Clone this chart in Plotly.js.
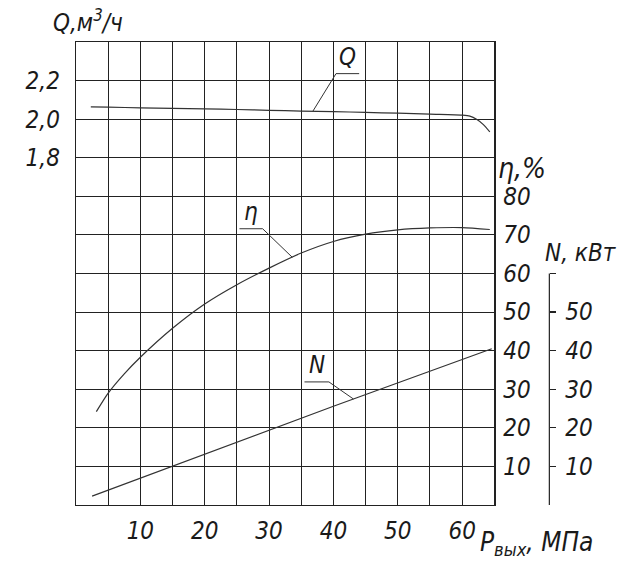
<!DOCTYPE html>
<html>
<head>
<meta charset="utf-8">
<script src="https://cdn.plot.ly/plotly-3.0.1.min.js"></script>
<style>
  body { margin: 0; background: #fff; }
  #chart { width: 618px; height: 565px; }
</style>
</head>
<body>
<div id="chart"></div>
<script>
// Pump characteristic: flow Q, efficiency eta and power N vs outlet pressure
var pressureQ = [2.3, 5, 10, 15, 20, 25, 30, 35, 40, 45, 50, 55, 60, 61.2, 62.3, 63.3, 64.3];
var flowQ = [2.064, 2.062, 2.059, 2.056, 2.053, 2.050, 2.046, 2.042, 2.039, 2.035, 2.031, 2.026, 2.021, 2.016, 1.998, 1.972, 1.934];

var pressureEta = [3.16, 5, 7.5, 10, 15, 20, 25, 30, 35, 40, 45, 50, 55, 60, 64.3];
var efficiency = [24.2, 29.0, 34.0, 38.3, 45.8, 52.1, 57.1, 61.4, 65.3, 68.3, 70.2, 71.3, 71.8, 71.9, 71.4];

var pressureN = [2.5, 20, 40, 64.6];
var power = [2.3, 13.2, 25.6, 40.5];

var xTickVals = [5, 10, 15, 20, 25, 30, 35, 40, 45, 50, 55, 60];
var xTickText = ['', '10', '', '20', '', '30', '', '40', '', '50', '', '60'];
var qTickVals = [0.2, 0.4, 0.6, 0.8, 1.0, 1.2, 1.4, 1.6, 1.8, 2.0, 2.2];
var qTickText = ['', '', '', '', '', '', '', '', '1,8', '2,0', '2,2'];
var etaTickVals = [10, 20, 30, 40, 50, 60, 70, 80];
var nTickVals = [10, 20, 30, 40, 50, 60];
var nTickText = ['10', '20', '30', '40', '50', ''];

var FONT = '"DejaVu Sans Condensed", "Liberation Sans Narrow", "DejaVu Sans", sans-serif';
var INK = '#1a1a1a';
var qToEta = 120 / 2.4;   // Q axis units -> eta axis units (same grid)
var nAxisX = 0.978;       // paper position of the N scale
var nAxisTop = 60;

function interp(xs, ys, x) {
  for (var i = 1; i < xs.length; i++) {
    if (x <= xs[i]) {
      var t = (x - xs[i - 1]) / (xs[i] - xs[i - 1]);
      return ys[i - 1] + t * (ys[i] - ys[i - 1]);
    }
  }
  return ys[ys.length - 1];
}

var curveLine = {color: '#333', width: 1.2, shape: 'spline', smoothing: 0.7};

var traceQ = {x: pressureQ, y: flowQ, type: 'scatter', mode: 'lines',
  line: curveLine, xaxis: 'x', yaxis: 'y', hoverinfo: 'skip'};
var traceEta = {x: pressureEta, y: efficiency, type: 'scatter', mode: 'lines',
  line: curveLine, xaxis: 'x', yaxis: 'y2', hoverinfo: 'skip'};
var traceN = {x: pressureN, y: power, type: 'scatter', mode: 'lines',
  line: {color: '#333', width: 1.2}, xaxis: 'x', yaxis: 'y3', hoverinfo: 'skip'};

// callouts: label with underline and leader to the curve (eta-axis units)
var callouts = [
  {text: 'Q', target: 36.8, y: interp(pressureQ, flowQ, 36.8) * qToEta, x0: 40.4, x1: 44.0, yl: 111.8, from: 'left'},
  {text: 'η', target: 33.6, y: interp(pressureEta, efficiency, 33.6), x0: 25.4, x1: 29.0, yl: 71.6, from: 'right'},
  {text: 'N', target: 43.1, y: interp(pressureN, power, 43.1), x0: 35.5, x1: 39.3, yl: 31.9, from: 'right'}
];

var shapes = [];
var annotations = [];
callouts.forEach(function (c) {
  var sx = c.from === 'left' ? c.x0 : c.x1;
  var ox = c.from === 'left' ? c.x1 : c.x0;
  shapes.push({type: 'path', xref: 'x', yref: 'y2',
    path: 'M ' + ox + ' ' + c.yl + ' L ' + sx + ' ' + c.yl + ' L ' + c.target + ' ' + c.y,
    line: {color: '#333', width: 1}});
  annotations.push({text: c.text, xref: 'x', yref: 'y2', x: (c.x0 + c.x1) / 2, y: c.yl,
    xanchor: 'center', yanchor: 'bottom', showarrow: false, yshift: 1,
    font: {family: FONT, size: 24, color: INK, style: 'italic'}});
});

// N scale only runs from 0 to 60
shapes.push({type: 'line', xref: 'paper', yref: 'y3', x0: nAxisX, x1: nAxisX, y0: 0, y1: nAxisTop,
  line: {color: '#222', width: 1.2}});

var labelFont = {family: FONT, size: 24, color: INK, style: 'italic'};
annotations.push(
  {text: 'Q,м<sup>3</sup>/ч', xref: 'paper', yref: 'paper', x: -0.052, y: 1.045,
   xanchor: 'left', yanchor: 'middle', showarrow: false, font: labelFont},
  {text: 'η,%', xref: 'paper', yref: 'paper', x: 0.868, y: 0.727,
   xanchor: 'left', yanchor: 'middle', showarrow: false,
   font: {family: FONT, size: 28, color: INK, style: 'italic'}},
  {text: 'N, кВт', xref: 'paper', yref: 'paper', x: 0.965, y: 0.545,
   xanchor: 'left', yanchor: 'middle', showarrow: false, font: labelFont},
  {text: 'P<sub>вых</sub>, МПа', xref: 'paper', yref: 'paper', x: 0.83, y: -0.083,
   xanchor: 'left', yanchor: 'middle', showarrow: false,
   font: {family: FONT, size: 26, color: INK, style: 'italic'}}
);

var tickFont = {family: FONT, size: 24, color: INK, style: 'italic'};

var layout = {
  width: 618, height: 565,
  margin: {l: 76, r: 58, t: 42, b: 60},
  paper_bgcolor: '#fff', plot_bgcolor: 'rgba(0,0,0,0)',
  showlegend: false,
  xaxis: {domain: [0, 0.8643], range: [0, 65], tickvals: xTickVals, ticktext: xTickText,
    showgrid: true, gridcolor: '#222', gridwidth: 1, zeroline: false,
    showline: true, linecolor: '#222', linewidth: 1.3, mirror: true,
    ticks: '', ticklabelstandoff: 4, tickfont: tickFont},
  yaxis: {range: [0, 2.4], tickvals: qTickVals, ticktext: qTickText,
    showgrid: true, gridcolor: '#222', gridwidth: 1, zeroline: false,
    showline: true, linecolor: '#222', linewidth: 1.3, mirror: true,
    ticks: '', ticklabelstandoff: 10, tickfont: tickFont},
  yaxis2: {overlaying: 'y', side: 'right', anchor: 'x', range: [0, 120],
    tickvals: etaTickVals, showgrid: false, zeroline: false, showline: false,
    ticks: '', ticklabelstandoff: 8, tickfont: tickFont},
  yaxis3: {overlaying: 'y', anchor: 'free', position: nAxisX, side: 'right',
    range: [0, 120], tickvals: nTickVals, ticktext: nTickText,
    showgrid: false, zeroline: false, showline: false,
    ticks: 'outside', ticklen: 6, tickcolor: '#222', tickwidth: 1.2,
    ticklabelstandoff: 4, tickfont: tickFont},
  shapes: shapes,
  annotations: annotations
};

Plotly.newPlot('chart', [traceQ, traceEta, traceN], layout, {staticPlot: true});
</script>
</body>
</html>
